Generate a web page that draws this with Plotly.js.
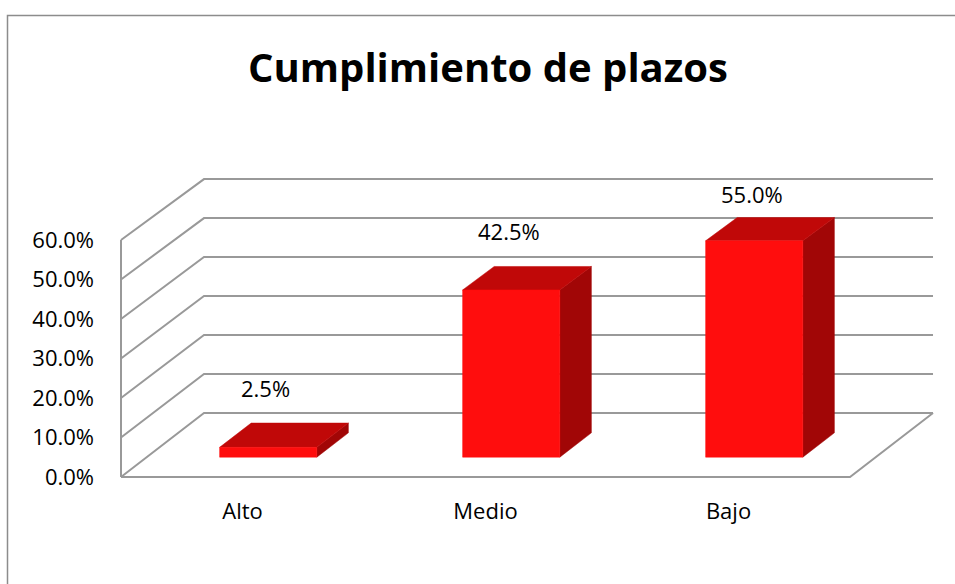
<!DOCTYPE html>
<html>
<head>
<meta charset="utf-8">
<script src="https://cdn.plot.ly/plotly-3.0.1.min.js"></script>
<style>html,body{margin:0;padding:0;background:#fff;}#chart{width:955px;height:584px;}</style>
</head>
<body>
<div id="chart"></div>
<script>
// ---- data ----
const categories = ["Alto", "Medio", "Bajo"];
const values = [2.5, 42.5, 55.0];            // percent
const tickValues = [0, 10, 20, 30, 40, 50, 60];
const chartTitle = "Cumplimiento de plazos";

// ---- 3D projection helpers (in axis data units) ----
const DEPTH_X = 0.3416;   // horizontal shift of back wall, in category units
const DEPTH_Y = 16.2;     // vertical shift of back wall, in percent units
const BACK_SCALE = 0.987; // slight perspective shrink
const FRONT_D = 0.31, BACK_D = 0.69, HALF_W = 0.2;
const xMin = -0.5, xMax = categories.length - 0.5;
const yMax = tickValues[tickValues.length - 1];

function P(x, v, d) {
  return [x + d * DEPTH_X, d * DEPTH_Y + v * (1 - d * (1 - BACK_SCALE))];
}

const traces = [];

// gridlines / walls
const gx = [], gy = [];
function seg(pts) { pts.forEach(p => { gx.push(p[0]); gy.push(p[1]); }); gx.push(null); gy.push(null); }
tickValues.forEach(t => seg([P(xMin, t, 0), P(xMin, t, 1), P(xMax, t, 1)]));
seg([P(xMin, 0, 0), P(xMin, yMax, 0)]);
seg([P(xMin, 0, 0), P(xMax, 0, 0), P(xMax, 0, 1)]);
traces.push({x: gx, y: gy, mode: 'lines', line: {color: '#999999', width: 2}, hoverinfo: 'skip', showlegend: false, type: 'scatter'});

// bars
const FRONT = '#ff0d0d', TOP = '#c00808', SIDE = '#a10606';
function face(pts, color) {
  const xs = pts.map(p => p[0]), ys = pts.map(p => p[1]);
  xs.push(xs[0]); ys.push(ys[0]);
  traces.push({x: xs, y: ys, mode: 'lines', fill: 'toself', fillcolor: color,
    line: {color: color, width: 0.5}, hoverinfo: 'skip', showlegend: false, type: 'scatter'});
}
const annotations = [];
values.forEach((v, i) => {
  const l = i - HALF_W, r = i + HALF_W;
  face([P(r, 0, FRONT_D), P(r, 0, BACK_D), P(r, v, BACK_D), P(r, v, FRONT_D)], SIDE);
  face([P(l, v, FRONT_D), P(r, v, FRONT_D), P(r, v, BACK_D), P(l, v, BACK_D)], TOP);
  face([P(l, 0, FRONT_D), P(r, 0, FRONT_D), P(r, v, FRONT_D), P(l, v, FRONT_D)], FRONT);
  const top = P(i, v, BACK_D);
  const fr = P(i, v, FRONT_D);
  const cap = P(xMin, yMax, 1)[1] - 15 / 3.95;
  const ly = Math.min(top[1] + 35 / 3.95, cap);
  annotations.push({x: fr[0] - 0.01, y: ly, xref: 'x', yref: 'y', text: v.toFixed(1) + '%',
    showarrow: false, xanchor: 'center', yanchor: 'middle',
    font: {family: 'Open Sans', size: 22, color: '#000'}});
});

const W = 955, H = 584;
const X0 = 242.5, SX = 243, Y0 = 477, SY = 3.95;
const layout = {
  width: W, height: H,
  margin: {l: 0, r: 0, t: 0, b: 0},
  paper_bgcolor: '#fff', plot_bgcolor: 'rgba(0,0,0,0)',
  showlegend: false,
  title: {text: chartTitle, x: 488 / W, xanchor: 'center', y: 1 - 68 / H, yanchor: 'middle',
    font: {family: 'Open Sans', size: 40, weight: 700, color: '#000'}},
  xaxis: {range: [(0 - X0) / SX, (W - X0) / SX], anchor: 'free', position: 1 - Y0 / H,
    tickvals: categories.map((c, i) => i), ticktext: categories,
    showgrid: false, zeroline: false, showline: false, ticks: '', ticklabelstandoff: 19,
    tickfont: {family: 'Open Sans', size: 22, color: '#000'}, fixedrange: true},
  yaxis: {range: [(Y0 - H) / SY, Y0 / SY], anchor: 'free', position: 121 / W,
    tickvals: tickValues, ticktext: tickValues.map(t => t.toFixed(1) + '%'),
    showgrid: false, zeroline: false, showline: false, ticks: '', ticklabelstandoff: 27,
    tickfont: {family: 'Open Sans', size: 22, color: '#000'}, fixedrange: true},
  annotations: annotations,
  shapes: [{type: 'path', xref: 'paper', yref: 'paper',
    path: `M ${7.5 / W} 0 L ${7.5 / W} ${1 - 15.5 / H} L 1 ${1 - 15.5 / H}`,
    line: {color: '#8c8c8c', width: 1.5}}]
};
Plotly.newPlot('chart', traces, layout, {displayModeBar: false, staticPlot: true});
</script>
</body>
</html>
